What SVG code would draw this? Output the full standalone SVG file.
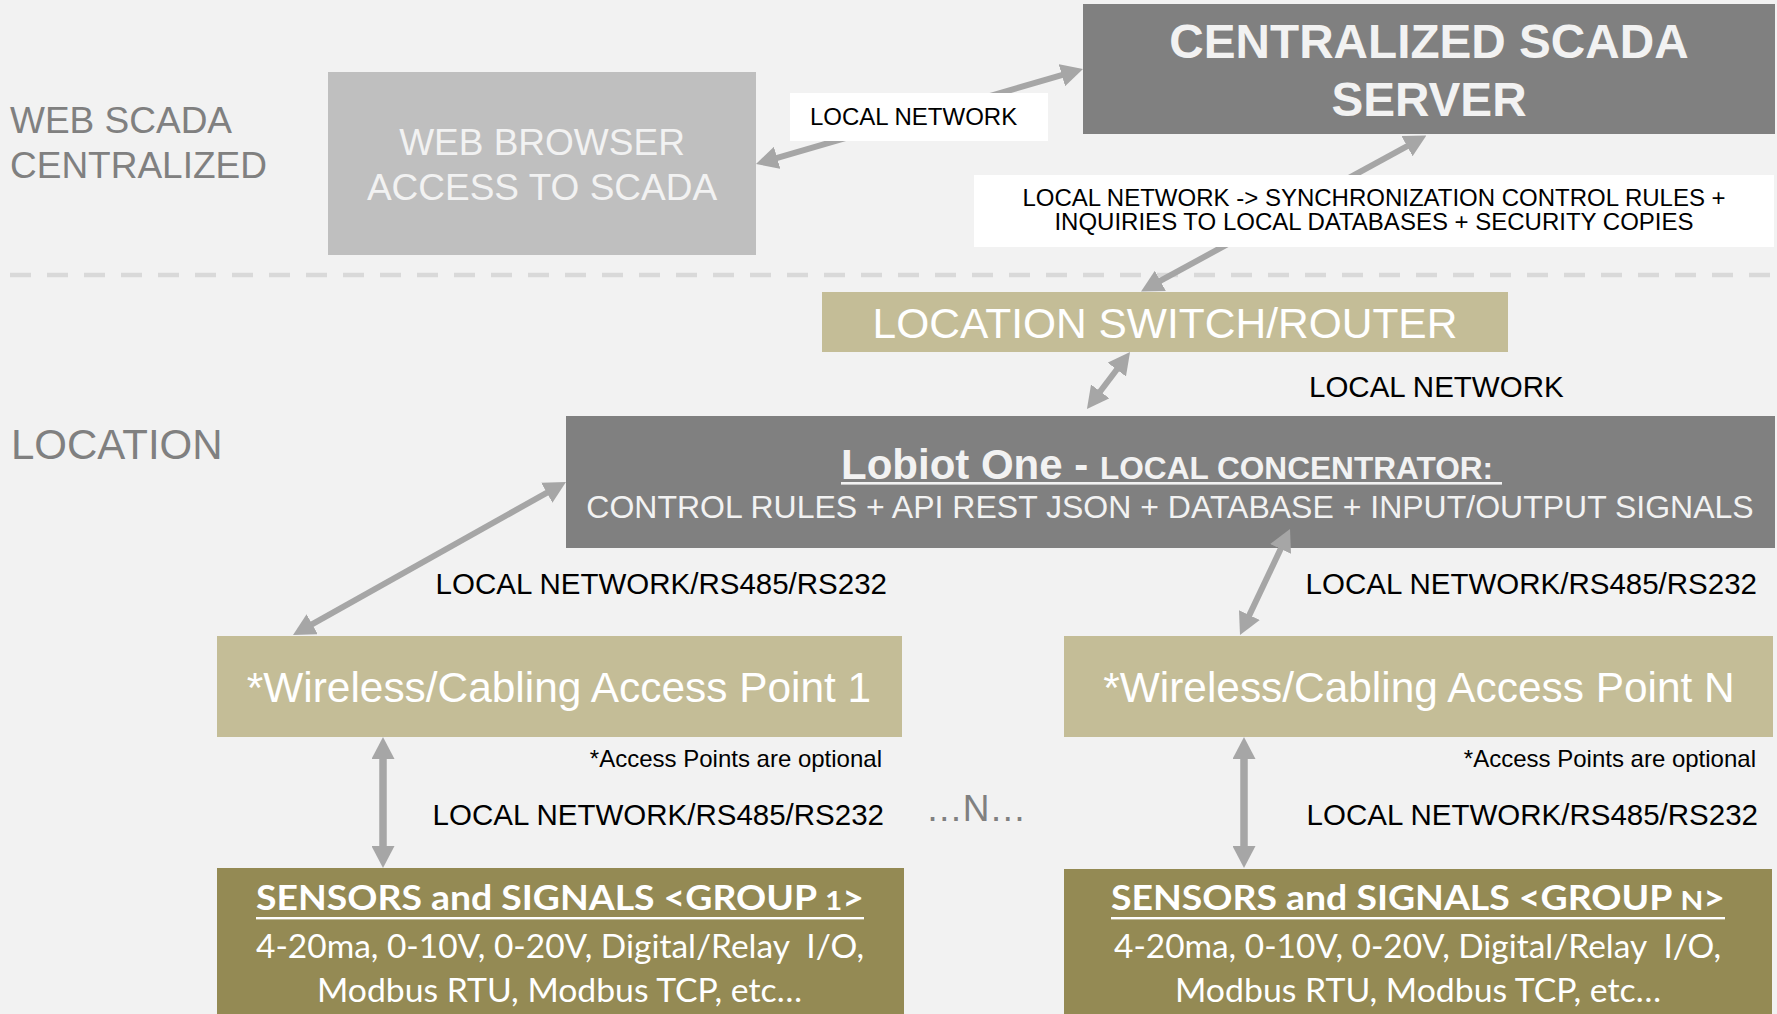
<svg xmlns="http://www.w3.org/2000/svg" width="1777" height="1014" viewBox="0 0 1777 1014">
  <style>
    .ar { font-family: "Liberation Sans", Arial, sans-serif; }
    .cal { font-family: Lato, "Open Sans", sans-serif; }
    .lbl { fill: #000000; font-size: 29.5px; }
    .side { fill: #808080; }
    .lite { fill: #f2f2f2; }
    .wt { fill: #ffffff; }
    .conn { stroke: #a6a6a6; stroke-width: 6; fill: none; marker-start: url(#ah); marker-end: url(#ah); }
    .conn.v { stroke-width: 7.5; }
  </style>
  <defs>
    <marker id="ah" viewBox="0 0 22 23" markerWidth="22" markerHeight="23" refX="7" refY="11.5" orient="auto-start-reverse" markerUnits="userSpaceOnUse">
      <path d="M0,0 L22,11.5 L0,23 Z" fill="#a6a6a6"/>
    </marker>
  </defs>

  <rect x="0" y="0" width="1777" height="1014" fill="#f2f2f2"/>

  <!-- section labels and separator -->
  <g id="section-labels">
    <text class="ar side" x="10" y="133" font-size="37">WEB SCADA</text>
    <text class="ar side" x="10" y="178" font-size="37">CENTRALIZED</text>
    <text class="ar side" x="11" y="459" font-size="42">LOCATION</text>
    <line x1="10" y1="275" x2="1777" y2="275" stroke="#d9d9d9" stroke-width="4.5" stroke-dasharray="21 16"/>
  </g>

  <!-- nodes -->
  <g id="web-browser">
    <rect x="328" y="72" width="428" height="183" fill="#bfbfbf"/>
    <text class="ar lite" x="542" y="155" font-size="37" text-anchor="middle">WEB BROWSER</text>
    <text class="ar lite" x="542" y="200" font-size="37" text-anchor="middle">ACCESS TO SCADA</text>
  </g>

  <g id="scada-server">
    <rect x="1083" y="4" width="692" height="130" fill="#808080"/>
    <text class="ar lite" x="1429" y="58" font-size="47.7" font-weight="bold" text-anchor="middle">CENTRALIZED SCADA</text>
    <text class="ar lite" x="1429" y="116" font-size="47.7" font-weight="bold" text-anchor="middle">SERVER</text>
  </g>

  <g id="switch-router">
    <rect x="822" y="292" width="686" height="60" fill="#c4bd97"/>
    <text class="ar wt" x="1165" y="338" font-size="42.5" text-anchor="middle">LOCATION SWITCH/ROUTER</text>
  </g>

  <g id="lobiot-one">
    <rect x="566" y="416" width="1209" height="132" fill="#808080"/>
    <text class="ar lite" x="841" y="479" font-weight="bold"><tspan font-size="42">Lobiot One - </tspan><tspan font-size="31.6">LOCAL CONCENTRATOR:</tspan></text>
    <rect x="841" y="482" width="661" height="2.6" fill="#f2f2f2"/>
    <text class="ar lite" x="1170" y="518" font-size="32" text-anchor="middle">CONTROL RULES + API REST JSON + DATABASE + INPUT/OUTPUT SIGNALS</text>
  </g>

  <g id="access-point-1">
    <rect x="217" y="636" width="685" height="101" fill="#c4bd97"/>
    <text class="ar wt" x="559" y="702" font-size="42.4" text-anchor="middle">*Wireless/Cabling Access Point 1</text>
  </g>

  <g id="access-point-n">
    <rect x="1064" y="636" width="709" height="101" fill="#c4bd97"/>
    <text class="ar wt" x="1419" y="702" font-size="42.4" text-anchor="middle">*Wireless/Cabling Access Point N</text>
  </g>

  <g id="sensors-group-1">
    <rect x="217" y="868" width="687" height="146" fill="#948a54"/>
    <text class="cal wt" x="256" y="910" font-size="34" font-weight="bold" textLength="608" lengthAdjust="spacingAndGlyphs">SENSORS and SIGNALS &lt;GROUP <tspan font-size="27">1</tspan>&gt;</text>
    <rect x="256" y="917" width="608" height="2.4" fill="#ffffff"/>
    <text class="cal wt" x="256" y="958" font-size="32" textLength="608" lengthAdjust="spacingAndGlyphs" xml:space="preserve">4-20ma, 0-10V, 0-20V, Digital/Relay  I/O,</text>
    <text class="cal wt" x="317" y="1002" font-size="32" textLength="485" lengthAdjust="spacingAndGlyphs">Modbus RTU, Modbus TCP, etc…</text>
  </g>

  <g id="sensors-group-n">
    <rect x="1064" y="869" width="708" height="145" fill="#948a54"/>
    <text class="cal wt" x="1111" y="910" font-size="34" font-weight="bold" textLength="614" lengthAdjust="spacingAndGlyphs">SENSORS and SIGNALS &lt;GROUP <tspan font-size="27">N</tspan>&gt;</text>
    <rect x="1111" y="917" width="614" height="2.4" fill="#ffffff"/>
    <text class="cal wt" x="1114" y="958" font-size="32" textLength="607" lengthAdjust="spacingAndGlyphs" xml:space="preserve">4-20ma, 0-10V, 0-20V, Digital/Relay  I/O,</text>
    <text class="cal wt" x="1175" y="1002" font-size="32" textLength="486" lengthAdjust="spacingAndGlyphs">Modbus RTU, Modbus TCP, etc…</text>
  </g>

  <!-- connectors -->
  <g id="connectors">
    <line class="conn" x1="770.4" y1="159.8" x2="1068.6" y2="73.2"/>
    <line class="conn" x1="1413.2" y1="142.8" x2="1154.2" y2="284.2"/>
    <line class="conn" x1="1121" y1="364" x2="1096" y2="397"/>
    <line class="conn" x1="552.9" y1="489.3" x2="306.1" y2="627.7"/>
    <line class="conn" x1="1283.6" y1="542.6" x2="1246.4" y2="621.4"/>
    <line class="conn v" x1="383" y1="752" x2="383" y2="853"/>
    <line class="conn v" x1="1244" y1="752" x2="1244" y2="853"/>
  </g>

  <!-- connector labels -->
  <g id="connector-labels">
    <rect x="790" y="93" width="258" height="48" fill="#ffffff"/>
    <text class="ar" x="810" y="124.5" font-size="24" fill="#000">LOCAL NETWORK</text>
    <rect x="974" y="175" width="800" height="72" fill="#ffffff"/>
    <text class="ar" x="1374" y="206" font-size="24" fill="#000" text-anchor="middle">LOCAL NETWORK -&gt; SYNCHRONIZATION CONTROL RULES +</text>
    <text class="ar" x="1374" y="230" font-size="24" fill="#000" text-anchor="middle">INQUIRIES TO LOCAL DATABASES + SECURITY COPIES</text>
    <text class="ar lbl" x="1309" y="397">LOCAL NETWORK</text>
    <text class="ar lbl" x="887" y="594" text-anchor="end">LOCAL NETWORK/RS485/RS232</text>
    <text class="ar lbl" x="1757" y="594" text-anchor="end">LOCAL NETWORK/RS485/RS232</text>
    <text class="ar" x="882" y="767" font-size="24" fill="#000" text-anchor="end">*Access Points are optional</text>
    <text class="ar" x="1756" y="767" font-size="24" fill="#000" text-anchor="end">*Access Points are optional</text>
    <text class="ar lbl" x="884" y="825" text-anchor="end">LOCAL NETWORK/RS485/RS232</text>
    <text class="ar lbl" x="1758" y="825" text-anchor="end">LOCAL NETWORK/RS485/RS232</text>
    <text class="ar side" x="976" y="821" font-size="37" text-anchor="middle">…N…</text>
  </g>
</svg>
